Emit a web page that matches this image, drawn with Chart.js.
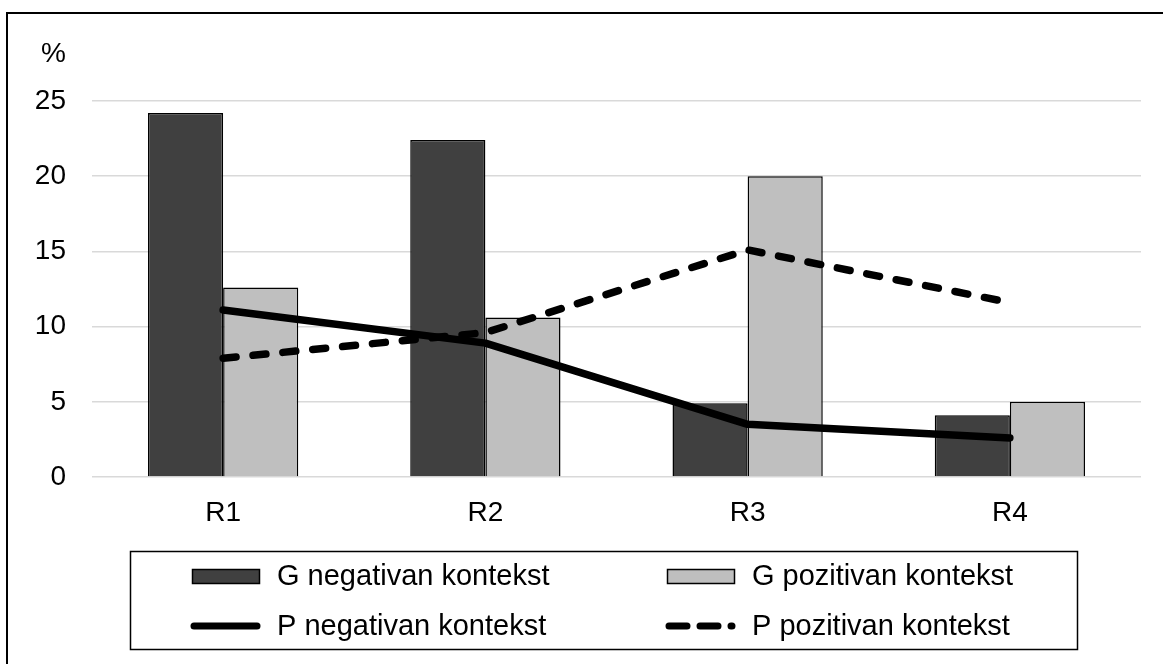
<!DOCTYPE html>
<html>
<head>
<meta charset="utf-8">
<script src="https://cdn.jsdelivr.net/npm/chart.js@4"></script>
<style>
    html, body { margin: 0; padding: 0; background: #fff; }
    #wrap { width: 1163px; height: 664px; }
</style>
</head>
<body>
<div id="wrap"><canvas id="chart-kontekst" width="1163" height="664"></canvas></div>
<script>
var categories = ['R1', 'R2', 'R3', 'R4'];
var gNegativan = [24.2, 22.4, 4.9, 4.1];
var gPozitivan = [12.6, 10.6, 20.0, 5.0];
var pNegativan = [11.1, 8.9, 3.5, 2.6];
var pPozitivan = [7.9, 9.6, 15.1, 11.6];
var yTicks = [0, 5, 10, 15, 20, 25];

var fontFamily = "'Liberation Sans', Arial, sans-serif";

// okvir, oznaka "%" i legenda u kutiji
var decorPlugin = {
    id: 'decor',
    afterDraw: function (chart) {
        var ctx = chart.ctx;
        ctx.save();
        ctx.fillStyle = '#000';
        ctx.fillRect(6, 12, 2, 652);
        ctx.fillRect(6, 12, 1157, 2);

        ctx.font = '28px ' + fontFamily;
        ctx.textAlign = 'right';
        ctx.textBaseline = 'middle';
        ctx.fillText('%', 66, 54);

        ctx.lineWidth = 1.5;
        ctx.strokeStyle = '#000';
        ctx.strokeRect(130.5, 551.5, 947, 98);

        var cols = [190, 665];
        var rows = [576, 626];
        chart.data.datasets.forEach(function (ds, i) {
            var x = cols[i % 2];
            var y = rows[Math.floor(i / 2)];
            if (ds.type === 'line') {
                ctx.beginPath();
                ctx.lineWidth = 7;
                ctx.lineCap = 'round';
                ctx.strokeStyle = ds.borderColor;
                ctx.setLineDash(ds.borderDash ? [18, 13] : []);
                ctx.moveTo(x + 4, y);
                ctx.lineTo(x + 67, y);
                ctx.stroke();
                ctx.setLineDash([]);
            } else {
                ctx.fillStyle = ds.backgroundColor;
                ctx.fillRect(x + 2, y - 7, 68, 15);
                ctx.lineWidth = 1.5;
                ctx.strokeStyle = ds.borderColor;
                ctx.strokeRect(x + 2.5, y - 6.5, 67, 14);
            }
            ctx.fillStyle = '#000';
            ctx.textAlign = 'left';
            ctx.textBaseline = 'middle';
            ctx.font = '29px ' + fontFamily;
            ctx.fillText(ds.label, x + 87, y + 1);
        });
        ctx.restore();
    }
};

var canvasKontekst = document.getElementById('chart-kontekst');

var chartKontekst = new Chart(canvasKontekst.getContext('2d'), {
    type: 'bar',
    data: {
        labels: categories,
        datasets: [{
            label: 'G negativan kontekst',
            data: gNegativan,
            backgroundColor: '#404040',
            borderColor: '#000',
            borderWidth: 1.5,
            order: 2
        }, {
            label: 'G pozitivan kontekst',
            data: gPozitivan,
            backgroundColor: '#bfbfbf',
            borderColor: '#000',
            borderWidth: 1.5,
            order: 2
        }, {
            type: 'line',
            label: 'P negativan kontekst',
            data: pNegativan,
            borderColor: '#000',
            borderWidth: 7.5,
            borderCapStyle: 'round',
            borderJoinStyle: 'round',
            pointRadius: 0,
            tension: 0,
            fill: false,
            order: 1
        }, {
            type: 'line',
            label: 'P pozitivan kontekst',
            data: pPozitivan,
            borderColor: '#000',
            borderWidth: 7.5,
            borderDash: [13, 17],
            borderCapStyle: 'round',
            borderJoinStyle: 'round',
            pointRadius: 0,
            tension: 0,
            fill: false,
            order: 0
        }]
    },
    options: {
        responsive: false,
        animation: false,
        devicePixelRatio: 1,
        categoryPercentage: 0.573,
        barPercentage: 1,
        layout: {
            padding: { left: 0, top: 101, right: 22, bottom: 117 }
        },
        plugins: {
            legend: { display: false },
            title: { display: false },
            tooltip: { enabled: false }
        },
        scales: {
            x: {
                grid: { display: false, drawTicks: false },
                border: { display: false },
                afterFit: function (scale) { scale.height = 70; },
                ticks: {
                    padding: 19,
                    color: '#000',
                    font: { family: fontFamily, size: 28 }
                }
            },
            y: {
                min: 0,
                max: 25,
                afterFit: function (scale) { scale.width = 92; },
                afterBuildTicks: function (scale) {
                    scale.ticks = yTicks.map(function (v) { return { value: v }; });
                },
                grid: { color: '#d9d9d9', lineWidth: 1.5, drawTicks: false },
                border: { display: false },
                ticks: {
                    padding: 26,
                    color: '#000',
                    font: { family: fontFamily, size: 28 }
                }
            }
        }
    },
    plugins: [decorPlugin]
});
</script>
</body>
</html>
